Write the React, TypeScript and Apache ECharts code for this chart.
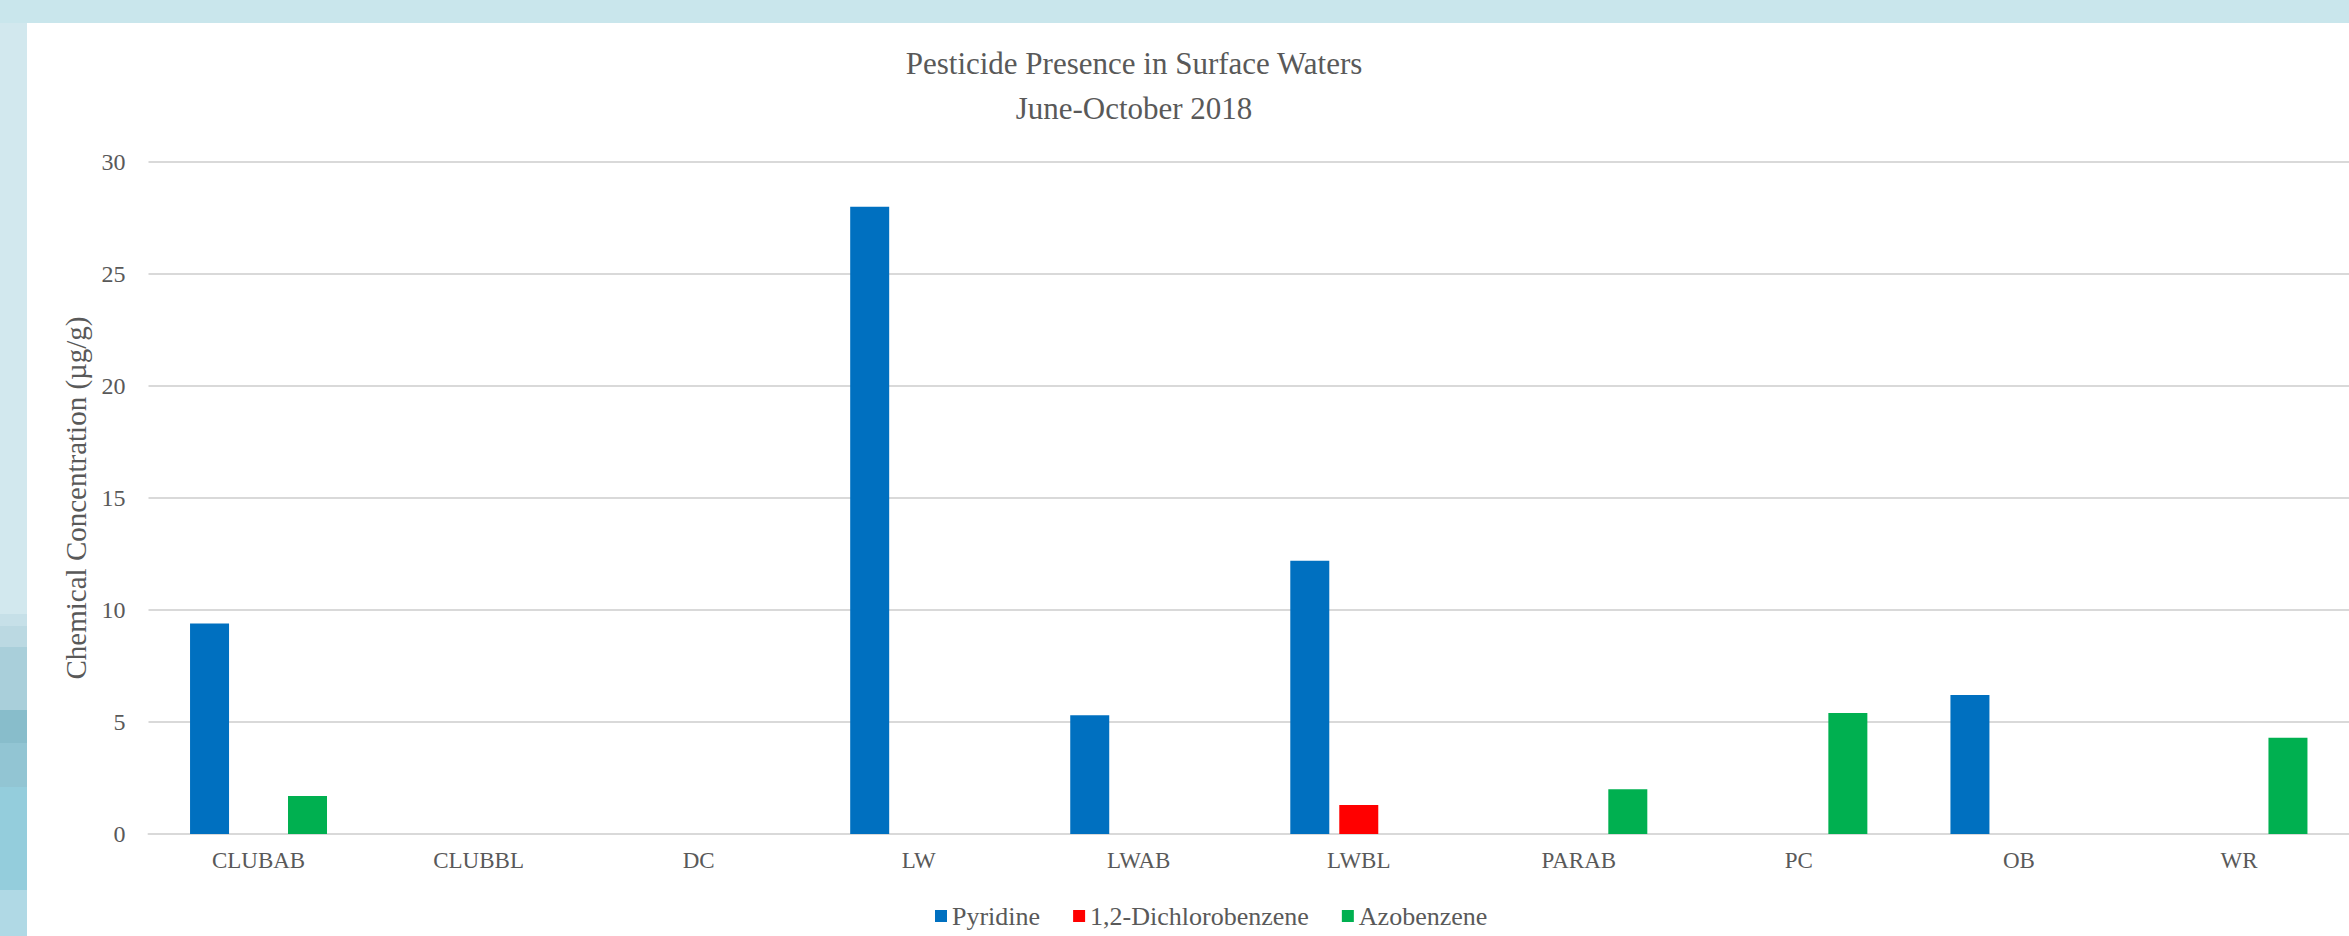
import React, { useEffect, useRef } from "react";
import * as echarts from "echarts";

const categories = ["CLUBAB", "CLUBBL", "DC", "LW", "LWAB", "LWBL", "PARAB", "PC", "OB", "WR"];
const pyridine = [9.4, 0, 0, 28, 5.3, 12.2, 0, 0, 6.2, 0];
const dichlorobenzene = [0, 0, 0, 0, 0, 1.3, 0, 0, 0, 0];
const azobenzene = [1.7, 0, 0, 0, 0, 0, 2.0, 5.4, 0, 4.3];
const seriesNames = ["Pyridine", "1,2-Dichlorobenzene", "Azobenzene"];
const seriesColors = ["#0070C0", "#FF0000", "#00B050"];
const titleText = "Pesticide Presence in Surface Waters\nJune-October 2018";
const yAxisName = "Chemical Concentration (µg/g)";

const FONT = "'Liberation Serif', 'Times New Roman', serif";
const TEXT = "#595959";

export default function App() {
  const ref = useRef<HTMLDivElement>(null);
  useEffect(() => {
    document.body.style.margin = "0";
    const chart = echarts.init(ref.current!, undefined, { renderer: "svg" });
    const stripBands = [
      [23, 614, "#D2E8EE"],
      [614, 626, "#C6E0E8"],
      [626, 647, "#BBD9E2"],
      [647, 710, "#A9CFDA"],
      [710, 743, "#88BDCB"],
      [743, 787, "#92C5D3"],
      [787, 890, "#94CDDC"],
      [890, 936, "#B0D9E5"],
    ] as [number, number, string][];
    const graphics: any[] = [
      { type: "rect", z: -10, shape: { x: 0, y: 0, width: 2349, height: 23 }, style: { fill: "#C9E6EC" }, silent: true },
      ...stripBands.map(([y0, y1, c]) => ({
        type: "rect",
        z: -10,
        shape: { x: 0, y: y0, width: 27, height: y1 - y0 },
        style: { fill: c },
        silent: true,
      })),
    ];
    const dataSets = [pyridine, dichlorobenzene, azobenzene];
    chart.setOption({
      animation: false,
      backgroundColor: "#ffffff",
      graphic: graphics,
      title: {
        text: titleText,
        left: 1134,
        top: 41,
        textAlign: "center",
        padding: 0,
        textStyle: { fontFamily: FONT, fontSize: 31, fontWeight: "normal", color: TEXT, lineHeight: 45 },
      },
      legend: {
        data: seriesNames,
        left: 935,
        top: 903,
        padding: 0,
        itemWidth: 12,
        itemHeight: 12,
        itemGap: 33,
        icon: "rect",
        textStyle: { fontFamily: FONT, fontSize: 26, color: TEXT },
      },
      grid: { left: 148.5, right: -8.5, top: 162, bottom: 102, containLabel: false },
      xAxis: {
        type: "category",
        data: categories,
        axisLine: { show: true, lineStyle: { color: "#D9D9D9", width: 2 } },
        axisTick: { show: false },
        axisLabel: { fontFamily: FONT, fontSize: 23, color: TEXT, margin: 15, interval: 0 },
      },
      yAxis: {
        type: "value",
        min: 0,
        max: 30,
        interval: 5,
        name: yAxisName,
        nameLocation: "middle",
        nameGap: 56,
        nameTextStyle: { fontFamily: FONT, fontSize: 29, color: TEXT },
        axisLine: { show: false },
        axisTick: { show: false },
        splitLine: { lineStyle: { color: "#D9D9D9", width: 2 } },
        axisLabel: { fontFamily: FONT, fontSize: 24, color: TEXT, margin: 23 },
      },
      series: seriesNames.map((name, i) => ({
        name,
        type: "bar",
        data: dataSets[i],
        barWidth: 39,
        barGap: "25.6%",
        itemStyle: { color: seriesColors[i] },
      })),
    });
    return () => chart.dispose();
  }, []);
  return <div ref={ref} style={{ position: "fixed", left: 0, top: 0, width: 2349, height: 936 }} />;
}
